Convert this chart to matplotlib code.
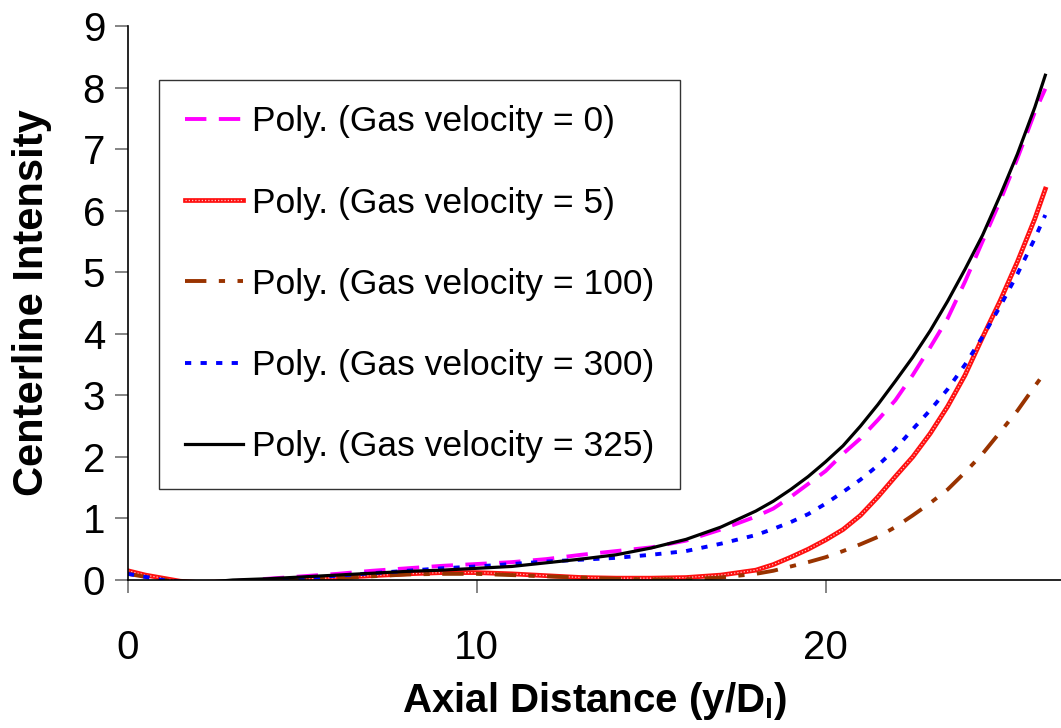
import matplotlib
matplotlib.use("Agg")
from matplotlib import pyplot as plt
from matplotlib.legend_handler import HandlerTuple

# axial distance (y/Dl) sample points
distance = [0, 0.5, 1, 1.5, 2, 3, 4, 5, 6, 7, 8, 9, 10, 11, 12, 13, 14, 15, 16, 17,
            18, 18.5, 19, 19.5, 20, 20.5, 21, 21.5, 22, 22.5, 23, 23.5, 24, 24.5,
            25, 25.5, 26, 26.3]

vel_0 = [-0.1, -0.12, -0.12, -0.1, -0.08, -0.02, 0.02, 0.06, 0.1, 0.15, 0.19, 0.23,
         0.26, 0.29, 0.34, 0.41, 0.47, 0.53, 0.64, 0.82, 1.03, 1.16, 1.35, 1.56,
         1.77, 2.05, 2.3, 2.6, 2.92, 3.33, 3.78, 4.25, 4.85, 5.5, 6.15, 6.85, 7.6, 7.98]
vel_5 = [0.15, 0.08, 0.03, -0.02, -0.04, -0.03, -0.01, 0.01, 0.04, 0.07, 0.1, 0.12,
         0.12, 0.1, 0.07, 0.04, 0.03, 0.03, 0.04, 0.08, 0.16, 0.25, 0.37, 0.5,
         0.65, 0.82, 1.05, 1.35, 1.68, 2.0, 2.38, 2.82, 3.33, 3.94, 4.53, 5.17, 5.87, 6.35]
vel_100 = [0.1, 0.05, 0.01, -0.02, -0.04, -0.04, -0.02, 0.0, 0.03, 0.06, 0.09, 0.1,
           0.1, 0.08, 0.06, 0.04, 0.02, 0.01, 0.01, 0.04, 0.1, 0.15, 0.22, 0.29,
           0.37, 0.47, 0.58, 0.7, 0.86, 1.05, 1.25, 1.47, 1.75, 2.05, 2.4, 2.75, 3.15, 3.38]
vel_300 = [0.1, 0.05, 0.0, -0.03, -0.05, -0.04, -0.01, 0.03, 0.07, 0.11, 0.15, 0.19,
           0.22, 0.26, 0.3, 0.33, 0.36, 0.41, 0.47, 0.59, 0.73, 0.83, 0.94, 1.07,
           1.24, 1.43, 1.63, 1.86, 2.13, 2.45, 2.76, 3.1, 3.5, 3.95, 4.44, 4.97, 5.55, 5.93]
vel_325 = [-0.08, -0.1, -0.1, -0.08, -0.05, 0.0, 0.02, 0.05, 0.08, 0.11, 0.14, 0.16,
           0.19, 0.22, 0.28, 0.34, 0.41, 0.52, 0.66, 0.86, 1.12, 1.28, 1.47, 1.68,
           1.92, 2.18, 2.5, 2.85, 3.23, 3.62, 4.05, 4.53, 5.05, 5.6, 6.24, 6.92, 7.68, 8.2]

labels = ["Poly. (Gas velocity = 0)", "Poly. (Gas velocity = 5)",
          "Poly. (Gas velocity = 100)", "Poly. (Gas velocity = 300)",
          "Poly. (Gas velocity = 325)"]

plt.rcParams['font.family'] = ["Liberation Sans", "DejaVu Sans"]

fig = plt.figure(figsize=(10.61, 7.28), dpi=100)
ax = fig.add_axes([128/1061, 148/728, 933/1061, 554/728])

l0, = ax.plot(distance, vel_0, color='#ff00ff', lw=2.8, dashes=(5.5, 3.2))
l5, = ax.plot(distance, vel_5, color='#ff1010', lw=3.4)
# speckled texture of the red trendline
l5b, = ax.plot(distance, vel_5, color='white', lw=0.9, dashes=(1.0, 1.6), alpha=0.75)
l100, = ax.plot(distance, vel_100, color='#993300', lw=2.8, dashes=(5.5, 3.2, 1.6, 3.2))
l300, = ax.plot(distance, vel_300, color='#0000ff', lw=2.8, dashes=(1.6, 2.4))
l325, = ax.plot(distance, vel_325, color='black', lw=2.3)

ax.set_xlim(0, 26.75)
ax.set_ylim(0, 9)
ax.set_xticks([0, 10, 20])
ax.set_yticks(range(10))
for s in ['top', 'right']:
    ax.spines[s].set_visible(False)
for s in ['left', 'bottom']:
    ax.spines[s].set_linewidth(1.2)
ax.tick_params(axis='both', direction='out', length=9.5, width=1.2, color='#707070')
ax.tick_params(axis='y', pad=7, labelsize=29)
ax.tick_params(axis='x', pad=26, labelsize=29)

ax.set_xlabel(r"Axial Distance (y/D$_\mathregular{l}$)", fontsize=29, fontweight='bold', labelpad=9)
ax.set_ylabel("Centerline Intensity", fontsize=30, fontweight='bold', labelpad=22)

leg = ax.legend([l0, (l5, l5b), l100, l300, l325], labels,
                handler_map={tuple: HandlerTuple(ndivide=1, pad=0)},
                loc='upper left', bbox_to_anchor=(159/1061, 1 - 80/728),
                bbox_transform=fig.transFigure, frameon=True, fancybox=False,
                fontsize=25.5, handlelength=1.65, handletextpad=0.25,
                labelspacing=1.36, borderpad=0.72, borderaxespad=0)
leg.get_frame().set_edgecolor('black')
leg.get_frame().set_linewidth(1.0)

fig.savefig("out.png", dpi=100)
